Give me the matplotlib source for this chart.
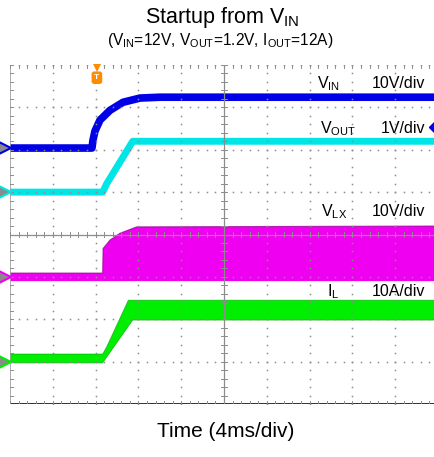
import numpy as np
import matplotlib.pyplot as plt

plt.rcParams['font.family'] = 'Liberation Sans'
plt.rcParams['mathtext.fontset'] = 'custom'
plt.rcParams['mathtext.rm'] = 'Liberation Sans'
plt.rcParams['mathtext.it'] = 'Liberation Sans:italic'
plt.rcParams['mathtext.bf'] = 'Liberation Sans:bold'

# time in ms, 4 ms/div, 10 divisions across the screen
vin_t = [0, 7.66, 7.76, 7.94, 8.41, 9.34, 10.56, 12.15, 14.02, 40]
vin_v = [0, 0, 1.9, 4.0, 6.6, 8.9, 10.8, 11.8, 12.0, 12.0]

vout_t = [0, 8.66, 9.04, 11.47, 40]
vout_v = [0, 0, 0.2, 1.2, 1.2]

# switch node: envelope of the switching waveform
vlx_hi_t = [0, 8.66, 8.70, 9.35, 10.28, 11.84, 40]
vlx_hi_v = [0.9, 0.9, 6.7, 8.7, 10.3, 11.8, 12.0]
vlx_lo_t = [0, 40]
vlx_lo_v = [-1.0, -1.0]

# inductor current envelope
il_hi_t = [0, 8.66, 9.04, 11.06, 40]
il_hi_a = [1.8, 1.8, 3.5, 14.5, 14.5]
il_lo_t = [0, 8.66, 11.47, 40]
il_lo_a = [-0.3, -0.3, 9.8, 9.8]

# channel settings: (offset in div, units per div)
ch_vin = (6.04, 10.0)
ch_vout = (5.0, 1.0)
ch_vlx = (3.0, 10.0)
ch_il = (1.0, 10.0)

c_vin = '#0000e6'
c_vout = '#00e6e6'
c_vlx = '#f000f0'
c_il = '#00ee00'


def to_div(t, v, ch):
    return np.array(t) / 4.0, ch[0] + np.array(v) / ch[1]


fig = plt.figure(figsize=(4.34, 4.57), dpi=100)
W, H = 434, 457
ax = fig.add_axes([10 / W, (H - 404) / H, 428 / W, 339 / H])
ax.set_xlim(0, 10)
ax.set_ylim(0, 8)
ax.axis('off')

# traces
x, y = to_div(vin_t, vin_v, ch_vin)
ax.plot(x, y, color=c_vin, lw=5.5, solid_capstyle='butt', zorder=3)
x, y = to_div(vout_t, vout_v, ch_vout)
ax.plot(x, y, color=c_vout, lw=5, solid_capstyle='butt', zorder=3)

xh, yh = to_div(vlx_hi_t, vlx_hi_v, ch_vlx)
xl, yl = to_div(vlx_lo_t, vlx_lo_v, ch_vlx)
ax.fill(np.r_[xh, xl[::-1]], np.r_[yh, yl[::-1]], color=c_vlx, lw=0, zorder=2)
ax.plot(xh, yh, color='#900090', lw=0.8, alpha=0.7, zorder=2)

xh, yh = to_div(il_hi_t, il_hi_a, ch_il)
xl, yl = to_div(il_lo_t, il_lo_a, ch_il)
ax.fill(np.r_[xh, xl[::-1]], np.r_[yh, yl[::-1]], color=c_il, lw=0, zorder=2)
ax.plot(xh, yh, color='#109010', lw=0.6, alpha=0.6, zorder=2)
ax.plot(xl, yl, color='#109010', lw=0.6, alpha=0.6, zorder=2)

# graticule (drawn over the traces, like the scope screen)
gc = '#8c8c8c'
minor = np.arange(0, 10.001, 0.2)
minor_y = np.arange(0, 8.001, 0.2)
for gx in range(1, 10):
    if gx != 5:
        ax.plot(np.full_like(minor_y, gx), minor_y, ls='none', marker='s',
                ms=1.1, mew=0, color=gc, zorder=5)
for gy in range(1, 9):
    if gy != 4:
        ax.plot(minor, np.full_like(minor, gy), ls='none', marker='s',
                ms=1.1, mew=0, color=gc, zorder=5)
ax.plot([5, 5], [0, 8], color=gc, lw=0.9, zorder=5)
ax.plot([0, 10], [4, 4], color=gc, lw=0.9, zorder=5)
ax.plot([0, 0], [0, 8], color='#a0a0a0', lw=1.2, zorder=5)
ax.plot([0, 10], [0, 0], color='#202020', lw=2, zorder=5)

tx, ty = 0.07, 0.07
for m in minor:
    ax.plot([m, m], [4 - ty, 4 + ty], color=gc, lw=0.7, zorder=5)
    ax.plot([m, m], [0, ty], color=gc, lw=0.7, zorder=5)
    ax.plot([m, m], [8 - ty, 8], color=gc, lw=0.7, zorder=5)
for m in minor_y:
    ax.plot([5 - tx, 5 + tx], [m, m], color=gc, lw=0.7, zorder=5)
    ax.plot([0, tx], [m, m], color=gc, lw=0.7, zorder=5)

# channel ground markers on the left edge
for ch, c in [(ch_vin, c_vin), (ch_vout, c_vout), (ch_vlx, c_vlx), (ch_il, c_il)]:
    ax.plot(-0.12, ch[0], marker='>', ms=9, mfc='#8a8a8a', mec=c, mew=1.5,
            clip_on=False, zorder=6)

# trigger position and level markers
ax.plot(2.03, 7.93, marker='v', ms=6, color='#ff8c00', mew=0, clip_on=False, zorder=6)
ax.text(2.03, 7.7, 'T', color='white', fontsize=6, fontweight='bold',
        ha='center', va='center', zorder=6,
        bbox=dict(boxstyle='round,pad=0.25', fc='#ff8c00', ec='#ff8c00'))
ax.plot(9.9, 6.53, marker='D', ms=5, color=c_vin, clip_on=False, zorder=6)

# channel labels
fs = 11.5
ax.text(7.17, 7.45, r'V$_{\mathrm{IN}}$', fontsize=fs, va='baseline')
ax.text(9.70, 7.45, '10V/div', fontsize=fs, va='baseline', ha='right')
ax.text(7.24, 6.40, r'V$_{\mathrm{OUT}}$', fontsize=fs, va='baseline')
ax.text(9.70, 6.40, '1V/div', fontsize=fs, va='baseline', ha='right')
ax.text(7.27, 4.43, r'V$_{\mathrm{LX}}$', fontsize=fs, va='baseline')
ax.text(9.70, 4.43, '10V/div', fontsize=fs, va='baseline', ha='right')
ax.text(7.40, 2.55, r'I$_{\mathrm{L}}$', fontsize=fs, va='baseline')
ax.text(9.70, 2.55, '10A/div', fontsize=fs, va='baseline', ha='right')

# titles
fig.text(222 / W, 1 - 23 / H, r'Startup from V$_{\mathrm{IN}}$', fontsize=15.5,
         ha='center', va='baseline')
fig.text(220 / W, 1 - 45 / H,
         r'(V$_{\mathrm{IN}}$=12V, V$_{\mathrm{OUT}}$=1.2V, I$_{\mathrm{OUT}}$=12A)',
         fontsize=11.2, ha='center', va='baseline')
fig.text(226 / W, 1 - 437 / H, 'Time (4ms/div)', fontsize=15,
         ha='center', va='baseline')

fig.savefig('out.png', dpi=100)
